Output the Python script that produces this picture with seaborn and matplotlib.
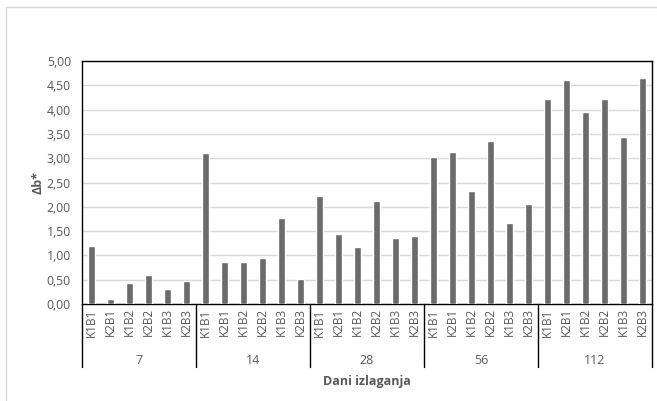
import numpy as np
import pandas as pd
import matplotlib
matplotlib.use("Agg")
import matplotlib.pyplot as plt
import matplotlib.transforms as mtransforms
from matplotlib.patches import Rectangle
import seaborn as sns

# data
days = ['7', '14', '28', '56', '112']
samples = ['K1B1', 'K2B1', 'K1B2', 'K2B2', 'K1B3', 'K2B3']
db_7 = [1.20, 0.10, 0.44, 0.60, 0.30, 0.47]
db_14 = [3.10, 0.87, 0.87, 0.95, 1.77, 0.52]
db_28 = [2.23, 1.45, 1.18, 2.12, 1.36, 1.39]
db_56 = [3.02, 3.12, 2.32, 3.35, 1.67, 2.06]
db_112 = [4.22, 4.60, 3.95, 4.22, 3.44, 4.65]

rows = []
for d, vals in zip(days, [db_7, db_14, db_28, db_56, db_112]):
    for s, v in zip(samples, vals):
        rows.append({'dan': d, 'uzorak': s, 'key': d + '_' + s, 'db': v})
df = pd.DataFrame(rows)

sns.set_theme(style="white")
plt.rcParams['font.family'] = ['Open Sans', 'DejaVu Sans']

fig = plt.figure(figsize=(6.57, 4.01), dpi=100)
ax = fig.add_axes([82/657, 1 - 304/401, 570/657, 243/401])

sns.barplot(data=df, x='key', y='db', order=list(df['key']), color='#6b6b6b',
            saturation=1, width=0.35, ax=ax, zorder=3)

ax.set_ylim(0, 5)
ax.set_xlim(-0.5, len(df) - 0.5)
ax.set_yticks(np.arange(0, 5.01, 0.5))
ax.set_yticklabels([f"{t:.2f}".replace('.', ',') for t in np.arange(0, 5.01, 0.5)],
                   fontsize=8.8, color='#595959')
ax.yaxis.grid(True, color='#d9d9d9', linewidth=1, zorder=0)
ax.set_axisbelow(True)

ax.set_xticks(range(len(df)))
ax.set_xticklabels(df['uzorak'], rotation=90, fontsize=8.5, color='#595959')
ax.tick_params(axis='x', length=0, pad=3)
ax.tick_params(axis='y', length=0, pad=8)
ax.set_xlabel('')
ax.set_ylabel('')

for sp in ax.spines.values():
    sp.set_color('black')
    sp.set_linewidth(1)

# group separators and labels under the axis
trans = mtransforms.blended_transform_factory(ax.transData, ax.transAxes)
n = len(samples)
for i in range(len(days) + 1):
    xb = i * n - 0.5
    ax.plot([xb, xb], [0, -0.259], transform=trans, color='black',
            linewidth=1, clip_on=False)
for i, d in enumerate(days):
    ax.text(i * n + (n - 1) / 2, -0.232, d, transform=trans, ha='center',
            va='center', fontsize=9, color='#595959')

ax.text(0.5, -0.318, 'Dani izlaganja', transform=ax.transAxes, ha='center',
        va='center', fontsize=9, fontweight='bold', color='#595959')
ax.text(-0.077, 0.5, 'Δb*', transform=ax.transAxes, ha='center', va='center',
        rotation=90, fontsize=9, fontweight='bold', color='#595959')

# light chart-area border
fig.patches.append(Rectangle((6/657, -0.05), 1.0, 1 - 7/401 + 0.05,
                             transform=fig.transFigure, fill=False,
                             edgecolor='#d9d9d9', linewidth=1))

fig.savefig('out.png', dpi=100)
